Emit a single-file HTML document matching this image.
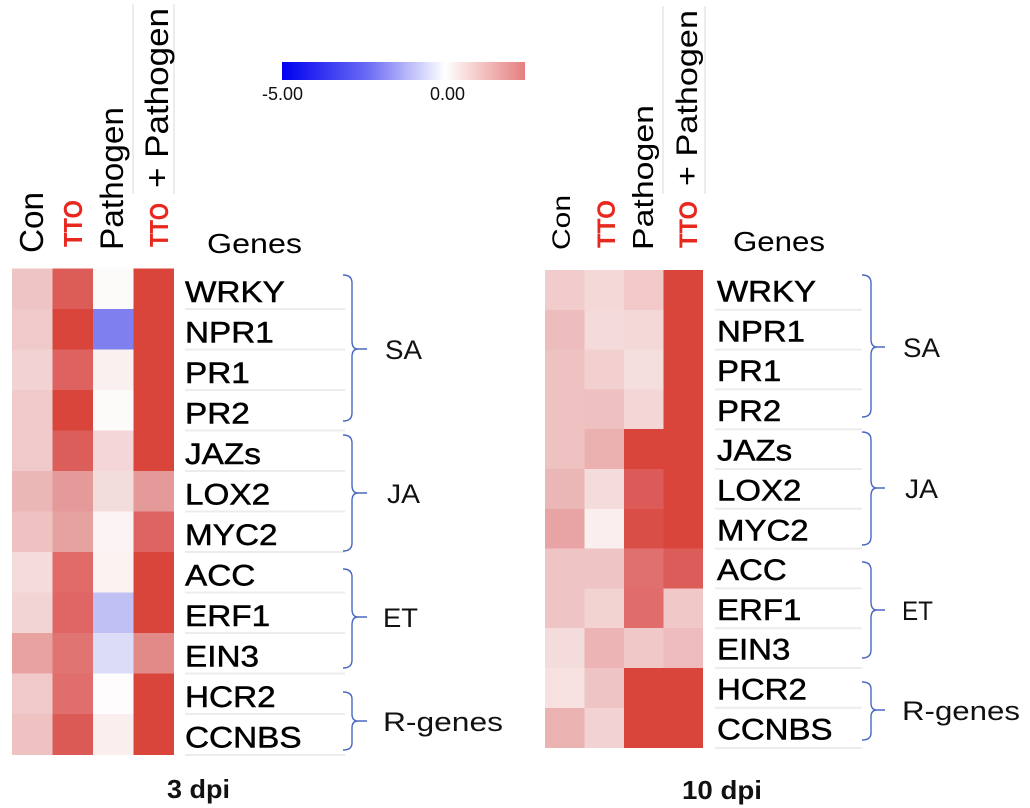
<!DOCTYPE html>
<html><head><meta charset="utf-8"><style>
html,body{margin:0;padding:0;background:#fff;}
svg{display:block;}
text{font-family:"Liberation Sans",Arial,sans-serif;}
</style></head><body>
<svg width="1030" height="808" viewBox="0 0 1030 808" xmlns="http://www.w3.org/2000/svg">
<defs>
<linearGradient id="cb" x1="0" y1="0" x2="1" y2="0">
<stop offset="0" stop-color="#0000f0"/>
<stop offset="0.35" stop-color="#6a6af4"/>
<stop offset="0.67" stop-color="#ffffff"/>
<stop offset="1" stop-color="#e67e7e"/>
</linearGradient>
</defs>
<rect width="1030" height="808" fill="#fff"/>

<!-- colorbar -->
<rect x="282" y="62" width="243" height="18" fill="url(#cb)"/>
<text x="262" y="100" font-size="18" textLength="41" lengthAdjust="spacingAndGlyphs" fill="#111">-5.00</text>
<text x="430" y="100" font-size="18" textLength="35" lengthAdjust="spacingAndGlyphs" fill="#111">0.00</text>

<!-- faint header separators -->
<g stroke="#e6e6e6" stroke-width="1.5">
<line x1="133" y1="4" x2="133" y2="194"/>
<line x1="174" y1="4" x2="174" y2="194"/>
<line x1="663" y1="6" x2="663" y2="194"/>
<line x1="705" y1="6" x2="705" y2="194"/>
</g>

<!-- LEFT headers -->
<text transform="translate(43,253) rotate(-90)" font-size="33" textLength="61" lengthAdjust="spacingAndGlyphs" fill="#000">Con</text>
<text transform="translate(82,247) rotate(-90)" font-size="26" font-weight="bold" textLength="47" lengthAdjust="spacingAndGlyphs" fill="#e8281e">TTO</text>
<text transform="translate(123,250) rotate(-90)" font-size="32" textLength="143" lengthAdjust="spacingAndGlyphs" fill="#000">Pathogen</text>
<text transform="translate(168,247) rotate(-90)" font-size="26" font-weight="bold" textLength="44" lengthAdjust="spacingAndGlyphs" fill="#e8281e">TTO</text>
<text transform="translate(168,188) rotate(-90)" font-size="32" textLength="180" lengthAdjust="spacingAndGlyphs" fill="#000">+ Pathogen</text>
<text x="207" y="253" font-size="28" textLength="95" lengthAdjust="spacingAndGlyphs" fill="#000">Genes</text>

<!-- RIGHT headers -->
<text transform="translate(570,250) rotate(-90)" font-size="25" textLength="55" lengthAdjust="spacingAndGlyphs" fill="#000">Con</text>
<text transform="translate(615,248) rotate(-90)" font-size="25" font-weight="bold" textLength="48" lengthAdjust="spacingAndGlyphs" fill="#e8281e">TTO</text>
<text transform="translate(653,250) rotate(-90)" font-size="29" textLength="145" lengthAdjust="spacingAndGlyphs" fill="#000">Pathogen</text>
<text transform="translate(697,248) rotate(-90)" font-size="25" font-weight="bold" textLength="47" lengthAdjust="spacingAndGlyphs" fill="#e8281e">TTO</text>
<text transform="translate(697,186) rotate(-90)" font-size="30" textLength="176" lengthAdjust="spacingAndGlyphs" fill="#000">+ Pathogen</text>
<text x="733" y="251" font-size="28" textLength="92" lengthAdjust="spacingAndGlyphs" fill="#000">Genes</text>

<!-- LEFT heatmap -->
<g shape-rendering="crispEdges">
<rect x="12" y="268.5" width="41" height="41" fill="#efc4c4"/><rect x="52.5" y="268.5" width="41" height="41" fill="#dc5c58"/><rect x="93" y="268.5" width="41" height="41" fill="#fdfafa"/><rect x="133.5" y="268.5" width="40.5" height="41" fill="#d9453b"/>
<rect x="12" y="309" width="41" height="41" fill="#f0caca"/><rect x="52.5" y="309" width="41" height="41" fill="#d9453b"/><rect x="93" y="309" width="41" height="41" fill="#7f7ff0"/><rect x="133.5" y="309" width="40.5" height="41" fill="#d9453b"/>
<rect x="12" y="349.5" width="41" height="41" fill="#f2d2d2"/><rect x="52.5" y="349.5" width="41" height="41" fill="#dd6260"/><rect x="93" y="349.5" width="41" height="41" fill="#fbf0f0"/><rect x="133.5" y="349.5" width="40.5" height="41" fill="#d9453b"/>
<rect x="12" y="390" width="41" height="41" fill="#f0caca"/><rect x="52.5" y="390" width="41" height="41" fill="#d9453b"/><rect x="93" y="390" width="41" height="41" fill="#fdfafa"/><rect x="133.5" y="390" width="40.5" height="41" fill="#d9453b"/>
<rect x="12" y="430.5" width="41" height="41" fill="#f0caca"/><rect x="52.5" y="430.5" width="41" height="41" fill="#db5e5a"/><rect x="93" y="430.5" width="41" height="41" fill="#f4d6d8"/><rect x="133.5" y="430.5" width="40.5" height="41" fill="#d9453b"/>
<rect x="12" y="471" width="41" height="41" fill="#eab6b6"/><rect x="52.5" y="471" width="41" height="41" fill="#e49a98"/><rect x="93" y="471" width="41" height="41" fill="#f3dcdc"/><rect x="133.5" y="471" width="40.5" height="41" fill="#e49a98"/>
<rect x="12" y="511.5" width="41" height="41" fill="#efc2c2"/><rect x="52.5" y="511.5" width="41" height="41" fill="#e6a2a0"/><rect x="93" y="511.5" width="41" height="41" fill="#fcf4f4"/><rect x="133.5" y="511.5" width="40.5" height="41" fill="#dd6462"/>
<rect x="12" y="552" width="41" height="41" fill="#f4dcdc"/><rect x="52.5" y="552" width="41" height="41" fill="#e06a68"/><rect x="93" y="552" width="41" height="41" fill="#fcf2f2"/><rect x="133.5" y="552" width="40.5" height="41" fill="#d9453b"/>
<rect x="12" y="592.5" width="41" height="41" fill="#f2d4d4"/><rect x="52.5" y="592.5" width="41" height="41" fill="#df6664"/><rect x="93" y="592.5" width="41" height="41" fill="#c0c0f4"/><rect x="133.5" y="592.5" width="40.5" height="41" fill="#d9453b"/>
<rect x="12" y="633" width="41" height="41" fill="#e8a2a0"/><rect x="52.5" y="633" width="41" height="41" fill="#e07472"/><rect x="93" y="633" width="41" height="41" fill="#dcdcf8"/><rect x="133.5" y="633" width="40.5" height="41" fill="#e28a88"/>
<rect x="12" y="673.5" width="41" height="41" fill="#f0caca"/><rect x="52.5" y="673.5" width="41" height="41" fill="#e06e6c"/><rect x="93" y="673.5" width="41" height="41" fill="#fefcfc"/><rect x="133.5" y="673.5" width="40.5" height="41" fill="#d9453b"/>
<rect x="12" y="714" width="41" height="41" fill="#efc2c2"/><rect x="52.5" y="714" width="41" height="41" fill="#dc5a56"/><rect x="93" y="714" width="41" height="41" fill="#faeeee"/><rect x="133.5" y="714" width="40.5" height="41" fill="#d9453b"/>
</g>

<!-- RIGHT heatmap -->
<g shape-rendering="crispEdges">
<rect x="545" y="270" width="40" height="40.3" fill="#f2cccc"/><rect x="584.5" y="270" width="40" height="40.3" fill="#f4d8d8"/><rect x="624" y="270" width="40" height="40.3" fill="#f2c8c8"/><rect x="663.5" y="270" width="39.5" height="40.3" fill="#d9453b"/>
<rect x="545" y="309.8" width="40" height="40.3" fill="#edbcbc"/><rect x="584.5" y="309.8" width="40" height="40.3" fill="#f4dada"/><rect x="624" y="309.8" width="40" height="40.3" fill="#f4d8d8"/><rect x="663.5" y="309.8" width="39.5" height="40.3" fill="#d9453b"/>
<rect x="545" y="349.6" width="40" height="40.3" fill="#efc2c2"/><rect x="584.5" y="349.6" width="40" height="40.3" fill="#f3d0d0"/><rect x="624" y="349.6" width="40" height="40.3" fill="#f5dede"/><rect x="663.5" y="349.6" width="39.5" height="40.3" fill="#d9453b"/>
<rect x="545" y="389.4" width="40" height="40.3" fill="#efc2c2"/><rect x="584.5" y="389.4" width="40" height="40.3" fill="#efc0c0"/><rect x="624" y="389.4" width="40" height="40.3" fill="#f4d6d6"/><rect x="663.5" y="389.4" width="39.5" height="40.3" fill="#d9453b"/>
<rect x="545" y="429.2" width="40" height="40.3" fill="#efc2c2"/><rect x="584.5" y="429.2" width="40" height="40.3" fill="#ebb0b0"/><rect x="624" y="429.2" width="40" height="40.3" fill="#d9453b"/><rect x="663.5" y="429.2" width="39.5" height="40.3" fill="#d9453b"/>
<rect x="545" y="469" width="40" height="40.3" fill="#ebb6b6"/><rect x="584.5" y="469" width="40" height="40.3" fill="#f4dcdc"/><rect x="624" y="469" width="40" height="40.3" fill="#dc5a58"/><rect x="663.5" y="469" width="39.5" height="40.3" fill="#d9453b"/>
<rect x="545" y="508.8" width="40" height="40.3" fill="#e8a4a4"/><rect x="584.5" y="508.8" width="40" height="40.3" fill="#fbeeee"/><rect x="624" y="508.8" width="40" height="40.3" fill="#da4e48"/><rect x="663.5" y="508.8" width="39.5" height="40.3" fill="#d9453b"/>
<rect x="545" y="548.6" width="40" height="40.3" fill="#efc4c4"/><rect x="584.5" y="548.6" width="40" height="40.3" fill="#efc4c4"/><rect x="624" y="548.6" width="40" height="40.3" fill="#e07070"/><rect x="663.5" y="548.6" width="39.5" height="40.3" fill="#dc5c5a"/>
<rect x="545" y="588.4" width="40" height="40.3" fill="#efc4c4"/><rect x="584.5" y="588.4" width="40" height="40.3" fill="#f3d2d2"/><rect x="624" y="588.4" width="40" height="40.3" fill="#e06c6c"/><rect x="663.5" y="588.4" width="39.5" height="40.3" fill="#f1c8c8"/>
<rect x="545" y="628.2" width="40" height="40.3" fill="#f4dcdc"/><rect x="584.5" y="628.2" width="40" height="40.3" fill="#ecb4b4"/><rect x="624" y="628.2" width="40" height="40.3" fill="#f0c8c8"/><rect x="663.5" y="628.2" width="39.5" height="40.3" fill="#eebcbc"/>
<rect x="545" y="668" width="40" height="40.3" fill="#f6e0e0"/><rect x="584.5" y="668" width="40" height="40.3" fill="#efc4c4"/><rect x="624" y="668" width="40" height="40.3" fill="#d9453b"/><rect x="663.5" y="668" width="39.5" height="40.3" fill="#d9453b"/>
<rect x="545" y="707.8" width="40" height="40.2" fill="#ebb2b2"/><rect x="584.5" y="707.8" width="40" height="40.2" fill="#f2d2d2"/><rect x="624" y="707.8" width="40" height="40.2" fill="#d9453b"/><rect x="663.5" y="707.8" width="39.5" height="40.2" fill="#d9453b"/>
</g>

<!-- LEFT gene separator lines -->
<g stroke="#ececec" stroke-width="2">
<line x1="185" y1="309" x2="345" y2="309"/><line x1="185" y1="349.5" x2="345" y2="349.5"/><line x1="185" y1="390" x2="345" y2="390"/><line x1="185" y1="430.5" x2="345" y2="430.5"/><line x1="185" y1="471" x2="345" y2="471"/><line x1="185" y1="511.5" x2="345" y2="511.5"/><line x1="185" y1="552" x2="345" y2="552"/><line x1="185" y1="592.5" x2="345" y2="592.5"/><line x1="185" y1="633" x2="345" y2="633"/><line x1="185" y1="673.5" x2="345" y2="673.5"/><line x1="185" y1="714" x2="345" y2="714"/><line x1="185" y1="755" x2="345" y2="755"/>
</g>
<!-- RIGHT gene separator lines -->
<g stroke="#ececec" stroke-width="2">
<line x1="715" y1="309.8" x2="862" y2="309.8"/><line x1="715" y1="349.6" x2="862" y2="349.6"/><line x1="715" y1="389.4" x2="862" y2="389.4"/><line x1="715" y1="429.2" x2="862" y2="429.2"/><line x1="715" y1="469" x2="862" y2="469"/><line x1="715" y1="508.8" x2="862" y2="508.8"/><line x1="715" y1="548.6" x2="862" y2="548.6"/><line x1="715" y1="588.4" x2="862" y2="588.4"/><line x1="715" y1="628.2" x2="862" y2="628.2"/><line x1="715" y1="668" x2="862" y2="668"/><line x1="715" y1="707.8" x2="862" y2="707.8"/><line x1="715" y1="748" x2="862" y2="748"/>
</g>

<!-- LEFT gene labels -->
<g transform="translate(185 0) scale(1.11 1)" font-size="30" fill="#000" stroke="#000" stroke-width="0.5">
<text x="0" y="302">WRKY</text>
<text x="0" y="342.5">NPR1</text>
<text x="0" y="383">PR1</text>
<text x="0" y="423.5">PR2</text>
<text x="0" y="464">JAZs</text>
<text x="0" y="504.5">LOX2</text>
<text x="0" y="545">MYC2</text>
<text x="0" y="585.5">ACC</text>
<text x="0" y="626">ERF1</text>
<text x="0" y="666.5">EIN3</text>
<text x="0" y="707">HCR2</text>
<text x="0" y="747.5">CCNBS</text>
</g>
<!-- RIGHT gene labels -->
<g transform="translate(717 0) scale(1.1 1)" font-size="30" fill="#000" stroke="#000" stroke-width="0.5">
<text x="0" y="301.5">WRKY</text>
<text x="0" y="341.3">NPR1</text>
<text x="0" y="381.1">PR1</text>
<text x="0" y="420.9">PR2</text>
<text x="0" y="460.7">JAZs</text>
<text x="0" y="500.5">LOX2</text>
<text x="0" y="540.3">MYC2</text>
<text x="0" y="580.1">ACC</text>
<text x="0" y="619.9">ERF1</text>
<text x="0" y="659.7">EIN3</text>
<text x="0" y="699.5">HCR2</text>
<text x="0" y="739.3">CCNBS</text>
</g>

<!-- LEFT brackets -->
<g fill="none" stroke="#4a68c0" stroke-width="1.4">
<path d="M343,275 Q352,275 352,283 L352,341 Q352,349 358,349 L367,349 M358,349 Q352,349 352,357 L352,413 Q352,421 343,421"/>
<path d="M343,435 Q352,435 352,443 L352,485 Q352,493 358,493 L367,493 M358,493 Q352,493 352,501 L352,543 Q352,551 343,551"/>
<path d="M343,569 Q352,569 352,577 L352,609 Q352,617 358,617 L367,617 M358,617 Q352,617 352,625 L352,660 Q352,668 343,668"/>
<path d="M343,692 Q352,692 352,699 L352,714 Q352,721 358,721 L367,721 M358,721 Q352,721 352,728 L352,743 Q352,750 343,750"/>
</g>
<!-- RIGHT brackets -->
<g fill="none" stroke="#4a68c0" stroke-width="1.4">
<path d="M862,275 Q871,275 871,283 L871,339 Q871,347 877,347 L885,347 M877,347 Q871,347 871,355 L871,409 Q871,417 862,417"/>
<path d="M862,432 Q871,432 871,440 L871,480 Q871,488 877,488 L885,488 M877,488 Q871,488 871,496 L871,537 Q871,545 862,545"/>
<path d="M862,562 Q871,562 871,570 L871,602 Q871,610 877,610 L885,610 M877,610 Q871,610 871,618 L871,650 Q871,658 862,658"/>
<path d="M862,682 Q871,682 871,689 L871,703 Q871,710 877,710 L885,710 M877,710 Q871,710 871,717 L871,733 Q871,740 862,740"/>
</g>

<!-- group labels left -->
<g font-size="27" fill="#111">
<text x="385" y="359" textLength="37" lengthAdjust="spacingAndGlyphs">SA</text>
<text x="387" y="503" textLength="33" lengthAdjust="spacingAndGlyphs">JA</text>
<text x="383" y="627" textLength="35" lengthAdjust="spacingAndGlyphs">ET</text>
<text x="383" y="731" textLength="120" lengthAdjust="spacingAndGlyphs">R-genes</text>
</g>
<!-- group labels right -->
<g font-size="27" fill="#111">
<text x="903" y="357" textLength="37" lengthAdjust="spacingAndGlyphs">SA</text>
<text x="905" y="498" textLength="33" lengthAdjust="spacingAndGlyphs">JA</text>
<text x="902" y="620" textLength="31" lengthAdjust="spacingAndGlyphs">ET</text>
<text x="902" y="720" textLength="118" lengthAdjust="spacingAndGlyphs">R-genes</text>
</g>

<!-- bottom labels -->
<text x="167" y="798" font-size="26" font-weight="bold" textLength="63" lengthAdjust="spacingAndGlyphs" fill="#111">3 dpi</text>
<text x="682" y="799" font-size="26" font-weight="bold" textLength="80" lengthAdjust="spacingAndGlyphs" fill="#111">10 dpi</text>
</svg>
</body></html>
